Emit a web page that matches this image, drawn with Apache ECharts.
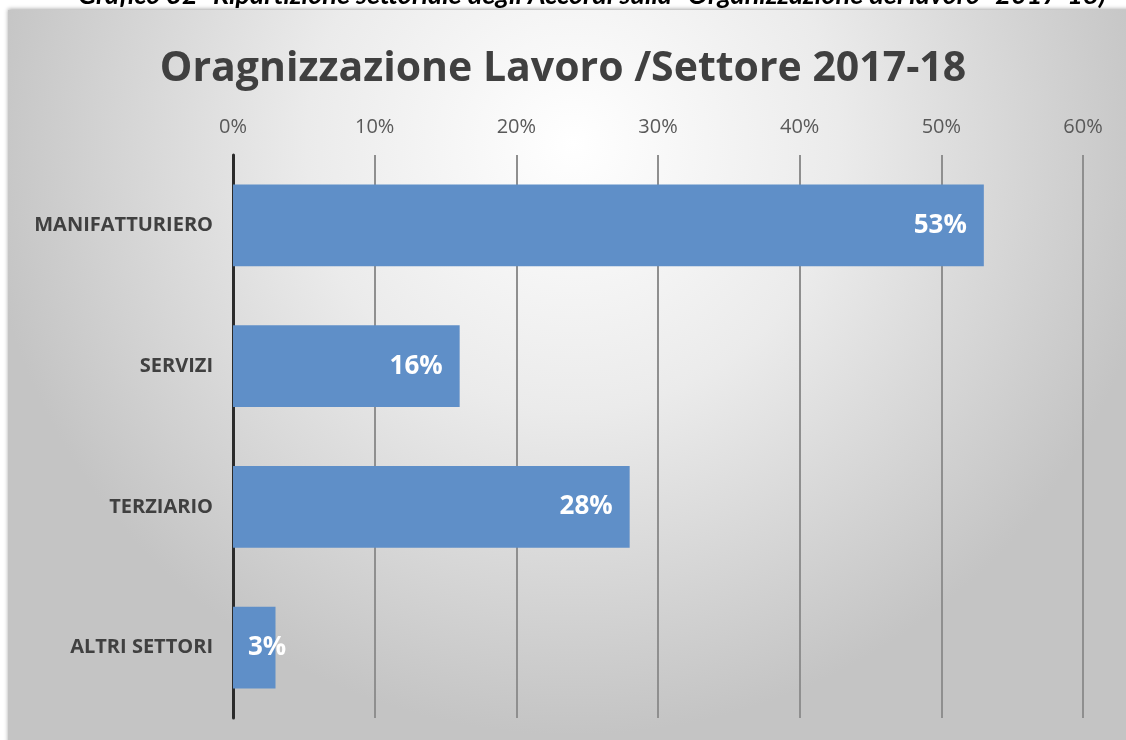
<!DOCTYPE html>
<html>
<head>
<meta charset="utf-8">
<script src="https://cdn.jsdelivr.net/npm/echarts@6/dist/echarts.min.js"></script>
<style>
  html, body { margin: 0; padding: 0; background: #ffffff; }
  #chart { width: 1126px; height: 740px; }
</style>
</head>
<body>
<div id="chart"></div>
<script>
// Sector breakdown of "work organisation" agreements, 2017-18
const categories = ['MANIFATTURIERO', 'SERVIZI', 'TERZIARIO', 'ALTRI SETTORI'];
const shares = [53, 16, 28, 3];
const axisTicks = [0, 10, 20, 30, 40, 50, 60];

const heading = 'Grafico 32 -Ripartizione settoriale degli Accordi sulla "Organizzazione del lavoro" 2017-18)';
const title = 'Oragnizzazione Lavoro /Settore 2017-18';

const chart = echarts.init(document.getElementById('chart'), null, { renderer: 'canvas' });

const barData = shares.map((v, i) => {
  const item = { value: v };
  // a narrow bar keeps its label starting from the axis
  if (i === shares.length - 1) {
    item.label = { position: 'insideLeft', distance: 15 };
  }
  return item;
});

chart.setOption({
  backgroundColor: '#ffffff',
  animation: false,
  graphic: [
    {
      type: 'rect',
      z: -10,
      shape: { x: 8, y: 10, width: 1130, height: 740 },
      style: {
        fill: new echarts.graphic.RadialGradient(0.5, 0.18, 0.8, [
          { offset: 0, color: '#ffffff' },
          { offset: 0.45, color: '#ebebeb' },
          { offset: 1, color: '#c4c4c4' }
        ]),
        shadowBlur: 4,
        shadowColor: 'rgba(0,0,0,0.35)',
        shadowOffsetY: -1
      }
    },
    {
      type: 'text',
      z: 5,
      left: 78,
      top: -18,
      style: {
        text: heading,
        font: 'italic bold 27px Lato, "Open Sans", sans-serif',
        fill: '#000000'
      }
    }
  ],
  title: {
    text: title,
    left: 'center',
    top: 44,
    textStyle: {
      fontFamily: '"Open Sans", Lato, sans-serif',
      fontSize: 41,
      fontWeight: 'bold',
      color: '#404040'
    }
  },
  grid: { left: 233, right: 43, top: 155, bottom: 22, containLabel: false },
  xAxis: {
    type: 'value',
    position: 'top',
    min: axisTicks[0],
    max: axisTicks[axisTicks.length - 1],
    interval: axisTicks[1] - axisTicks[0],
    axisLine: { show: false },
    axisTick: { show: false },
    axisLabel: {
      margin: 18,
      formatter: '{value}%',
      fontFamily: '"Open Sans", Lato, sans-serif',
      fontSize: 20,
      color: '#595959'
    },
    splitLine: { show: true, lineStyle: { color: '#8f8f8f', width: 2 } }
  },
  yAxis: {
    type: 'category',
    inverse: true,
    data: categories,
    axisLine: { show: true, lineStyle: { color: '#2b2b2b', width: 3 } },
    axisTick: { show: false },
    axisLabel: {
      margin: 20,
      fontFamily: '"Open Sans", Lato, sans-serif',
      fontSize: 20,
      fontWeight: 'bold',
      color: '#404040',
      padding: [6, 0, 0, 0]
    }
  },
  series: [{
    type: 'bar',
    data: barData,
    barCategoryGap: '42%',
    itemStyle: { color: '#5f8fc8' },
    label: {
      show: true,
      position: 'insideRight',
      distance: 17,
      formatter: '{c}%',
      fontFamily: '"Open Sans", Lato, sans-serif',
      fontSize: 26,
      fontWeight: 'bold',
      color: '#ffffff'
    }
  }]
});
</script>
</body>
</html>
